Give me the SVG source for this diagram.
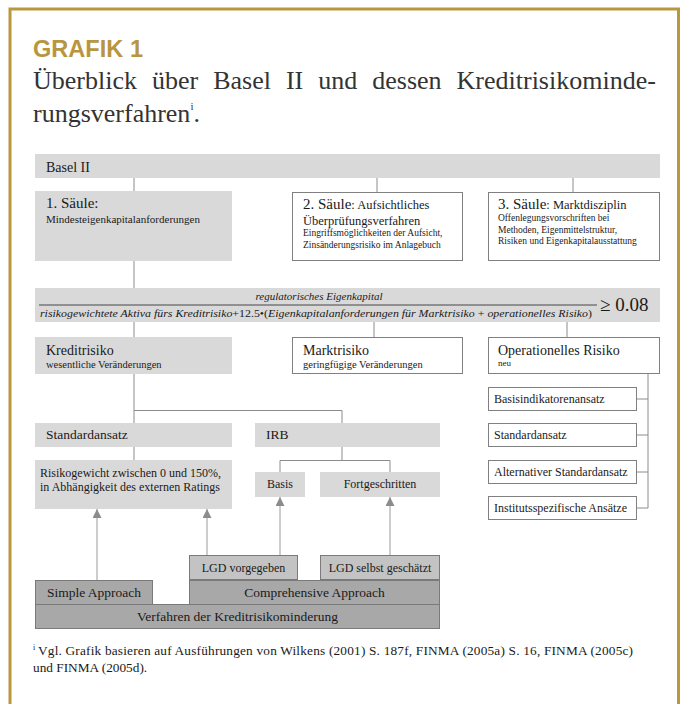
<svg xmlns="http://www.w3.org/2000/svg" width="681" height="704" viewBox="0 0 681 704">
<defs>
<style>
.t{font-family:"Liberation Serif","Times New Roman",serif;fill:#1a1a1a}
.c{text-anchor:middle}
.bl{fill:#d9d9d9}
.bw{fill:#ffffff;stroke:#808080;stroke-width:1}
.bm{fill:#c3c3c3;stroke:#7a7a7a;stroke-width:1}
.bd{fill:#a8a8a8;stroke:#7a7a7a;stroke-width:1}
.ln{stroke:#8c8c8c;stroke-width:1;fill:none}
.ar{stroke:#9a9a9a;stroke-width:1;fill:none;marker-end:url(#ah)}
</style>
<marker id="ah" markerUnits="userSpaceOnUse" markerWidth="9" markerHeight="9" refX="9" refY="4.5" orient="auto">
<path d="M0,0 L9,4.5 L0,9 z" fill="#8c8c8c"/>
</marker>
</defs>
<rect width="681" height="704" fill="#ffffff"/>
<path d="M10,705 V9 H678.5 V705" fill="none" stroke="#b8973e" stroke-width="3"/>
<g id="title">
<text x="33" y="57" font-family="Liberation Sans, Arial, sans-serif" font-weight="bold" font-size="23" fill="#b8963f" textLength="110" lengthAdjust="spacingAndGlyphs">GRAFIK 1</text>
<text class="t" x="33" y="89" font-size="26" style="fill:#333" word-spacing="8.5">Überblick über Basel II und dessen Kreditrisikominde-</text>
<text class="t" x="33" y="122" font-size="26" style="fill:#333">rungsverfahren<tspan font-size="11" dy="-12">i</tspan><tspan dy="12">.</tspan></text>
</g>
<g id="connectors">
<path class="ln" d="M134,178 V191 M377,178 V192 M573,178 V192 M134,261 V288 M134,322 V337 M374,322 V337 M567,322 V337"/>
<path class="ln" d="M134,374 V423 M134,410.5 H342 V423 M134,447 V460 M342,447 V460.5 M280,472 V460.5 H390 V472"/>
<path class="ln" d="M648,374 V508 M636.5,399 H648 M636.5,435 H648 M636.5,472 H648 M636.5,508 H648"/>
<line class="ar" x1="97" y1="580" x2="97" y2="509"/>
<line class="ar" x1="207" y1="555" x2="207" y2="509"/>
<line class="ar" x1="280" y1="555" x2="280" y2="497"/>
<line class="ar" x1="390" y1="555" x2="390" y2="497"/>
</g>
<g id="basel2">
<rect class="bl" x="35" y="154" width="625" height="24"/>
<text class="t" x="46" y="172" font-size="14">Basel II</text>
</g>
<g id="saeule1">
<rect class="bl" x="35" y="191" width="197" height="70"/>
<text class="t" x="46" y="208" font-size="15">1. Säule:</text>
<text class="t" x="46" y="223" font-size="11">Mindesteigenkapitalanforderungen</text>
</g>
<g id="saeule2">
<rect class="bw" x="292.5" y="192.5" width="170" height="68"/>
<text class="t" x="303" y="209" font-size="15">2. Säule<tspan font-size="12.5">: Aufsichtliches</tspan></text>
<text class="t" x="303" y="225" font-size="12.5">Überprüfungsverfahren</text>
<text class="t" x="303" y="236" font-size="9.5">Eingriffsmöglichkeiten der Aufsicht,</text>
<text class="t" x="303" y="248" font-size="9.5">Zinsänderungsrisiko im Anlagebuch</text>
</g>
<g id="saeule3">
<rect class="bw" x="488.5" y="192.5" width="171" height="68"/>
<text class="t" x="498" y="209" font-size="15">3. Säule<tspan font-size="12.5">: Marktdisziplin</tspan></text>
<text class="t" x="498" y="221" font-size="9.5">Offenlegungsvorschriften bei</text>
<text class="t" x="498" y="233" font-size="9.5">Methoden, Eigenmittelstruktur,</text>
<text class="t" x="498" y="244" font-size="9.5">Risiken und Eigenkapitalausstattung</text>
</g>
<g id="formel">
<rect class="bl" x="35" y="288" width="625" height="34"/>
<text class="t c" x="319" y="300" font-size="11" font-style="italic">regulatorisches Eigenkapital</text>
<line x1="39" y1="305" x2="597" y2="305" stroke="#222" stroke-width="0.8"/>
<text class="t" x="40" y="317" font-size="11" font-style="italic" textLength="552" lengthAdjust="spacingAndGlyphs">risikogewichtete Aktiva fürs Kreditrisiko<tspan font-style="normal">+12.5•(</tspan>Eigenkapitalanforderungen für Marktrisiko<tspan font-style="normal"> + </tspan>operationelles Risiko<tspan font-style="normal">)</tspan></text>
<text class="t" x="600" y="311" font-size="19">≥ 0.08</text>
</g>
<g id="kreditrisiko">
<rect class="bl" x="35" y="337" width="197" height="37"/>
<text class="t" x="46" y="355" font-size="14">Kreditrisiko</text>
<text class="t" x="46" y="368" font-size="10.5">wesentliche Veränderungen</text>
</g>
<g id="marktrisiko">
<rect class="bw" x="292.5" y="337.5" width="170" height="36"/>
<text class="t" x="303" y="355" font-size="14">Marktrisiko</text>
<text class="t" x="303" y="368" font-size="10.5">geringfügige Veränderungen</text>
</g>
<g id="oprisiko">
<rect class="bw" x="488.5" y="337.5" width="171" height="36"/>
<text class="t" x="498" y="355" font-size="14">Operationelles Risiko</text>
<text class="t" x="498" y="366" font-size="9">neu</text>
</g>
<g id="op-basis">
<rect class="bw" x="488.5" y="387.5" width="148" height="23"/>
<text class="t" x="494" y="403" font-size="12">Basisindikatorenansatz</text>
</g>
<g id="op-standard">
<rect class="bw" x="488.5" y="423.5" width="148" height="23"/>
<text class="t" x="494" y="439" font-size="12">Standardansatz</text>
</g>
<g id="op-alternativ">
<rect class="bw" x="488.5" y="460.5" width="148" height="23"/>
<text class="t" x="494" y="476" font-size="12">Alternativer Standardansatz</text>
</g>
<g id="op-institut">
<rect class="bw" x="488.5" y="496.5" width="148" height="23"/>
<text class="t" x="494" y="512" font-size="12">Institutsspezifische Ansätze</text>
</g>
<g id="standardansatz">
<rect class="bl" x="35" y="423" width="197" height="24"/>
<text class="t" x="46" y="439" font-size="13.5">Standardansatz</text>
</g>
<g id="irb">
<rect class="bl" x="255" y="423" width="185" height="24"/>
<text class="t" x="266" y="439" font-size="13.5">IRB</text>
</g>
<g id="risikogewicht">
<rect class="bl" x="35" y="460" width="197" height="49"/>
<text class="t" x="40" y="477" font-size="12">Risikogewicht zwischen 0 und 150%,</text>
<text class="t" x="40" y="491" font-size="12">in Abhängigkeit des externen Ratings</text>
</g>
<g id="basis">
<rect class="bl" x="255" y="472" width="50" height="25"/>
<text class="t c" x="280" y="488" font-size="12">Basis</text>
</g>
<g id="fortgeschritten">
<rect class="bl" x="320" y="472" width="120" height="25"/>
<text class="t c" x="380" y="488" font-size="12">Fortgeschritten</text>
</g>
<g id="lgd-vorgegeben">
<rect class="bm" x="189.5" y="555.5" width="108" height="24"/>
<text class="t c" x="243.5" y="572" font-size="12">LGD vorgegeben</text>
</g>
<g id="lgd-geschaetzt">
<rect class="bm" x="320.5" y="555.5" width="119" height="24"/>
<text class="t c" x="380" y="572" font-size="12">LGD selbst geschätzt</text>
</g>
<g id="simple">
<rect class="bd" x="35.5" y="580.5" width="117" height="24"/>
<text class="t c" x="94" y="597" font-size="13.5">Simple Approach</text>
</g>
<g id="comprehensive">
<rect class="bd" x="189.5" y="580.5" width="250" height="24"/>
<text class="t c" x="314.5" y="597" font-size="13.5">Comprehensive Approach</text>
</g>
<g id="verfahren">
<rect class="bd" x="35.5" y="604.5" width="404" height="24"/>
<text class="t c" x="237.5" y="621" font-size="13.5">Verfahren der Kreditrisikominderung</text>
</g>
<g id="footnote">
<text class="t" x="33" y="650" font-size="8">i</text>
<text class="t" x="38" y="655" font-size="13.3" textLength="595" lengthAdjust="spacing">Vgl. Grafik basieren auf Ausführungen von Wilkens (2001) S. 187f, FINMA (2005a) S. 16, FINMA (2005c)</text>
<text class="t" x="33" y="672" font-size="13.3">und FINMA (2005d).</text>
</g>
</svg>
